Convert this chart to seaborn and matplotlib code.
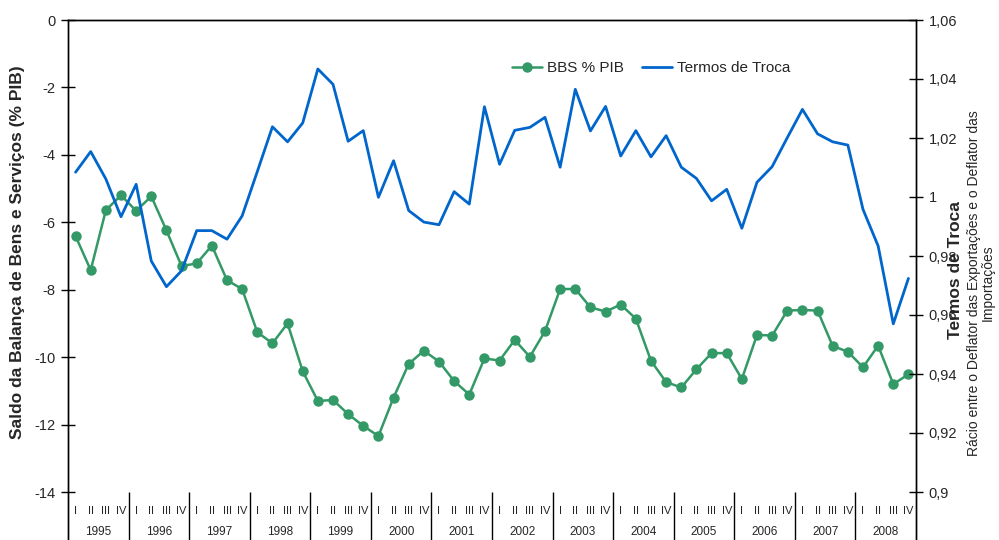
import numpy as np
import pandas as pd
import matplotlib
matplotlib.use("Agg")
import matplotlib.pyplot as plt
import seaborn as sns

# Quarterly data, 1995 Q1 - 2008 Q4
years = list(range(1995, 2009))
quarters = ["I", "II", "III", "IV"]

bbs_pib = [
    -6.41, -7.42, -5.64, -5.20, -5.66, -5.23, -6.24, -7.30,
    -7.22, -6.69, -7.72, -7.98, -9.26, -9.59, -9.00, -10.42,
    -11.30, -11.27, -11.69, -12.04, -12.34, -11.20, -10.20, -9.81,
    -10.13, -10.71, -11.11, -10.04, -10.10, -9.49, -9.99, -9.23,
    -7.98, -7.98, -8.52, -8.65, -8.44, -8.86, -10.11, -10.74,
    -10.90, -10.36, -9.88, -9.88, -10.65, -9.34, -9.36, -8.62,
    -8.60, -8.62, -9.67, -9.84, -10.30, -9.66, -10.80, -10.51,
]

termos_troca = [
    1.0084, 1.0154, 1.0061, 0.9933, 1.0043, 0.9783, 0.9696, 0.9750,
    0.9886, 0.9886, 0.9857, 0.9936, 1.0086, 1.0238, 1.0187, 1.0251,
    1.0434, 1.0382, 1.0189, 1.0225, 0.9999, 1.0123, 0.9954, 0.9915,
    0.9906, 1.0018, 0.9976, 1.0306, 1.0111, 1.0226, 1.0236, 1.0270,
    1.0101, 1.0365, 1.0224, 1.0307, 1.0139, 1.0225, 1.0136, 1.0208,
    1.0101, 1.0063, 0.9987, 1.0026, 0.9894, 1.0050, 1.0103, 1.0201,
    1.0297, 1.0214, 1.0187, 1.0176, 0.9958, 0.9834, 0.9570, 0.9724,
]

left_ticks = [0, -2, -4, -6, -8, -10, -12, -14]
right_ticks = [0.90, 0.92, 0.94, 0.96, 0.98, 1.00, 1.02, 1.04, 1.06]

GREEN = "#339966"
BLUE = "#0066CC"

df = pd.DataFrame({
    "t": np.arange(len(bbs_pib)),
    "bbs": bbs_pib,
    "tt": termos_troca,
})

sns.set_style("white")
plt.rcParams["font.family"] = ["Liberation Sans", "DejaVu Sans"]

W, H = 999, 540
fig = plt.figure(figsize=(W / 100, H / 100), dpi=100)
x0, x1, ytop = 68, 916, 20
ax = fig.add_axes([x0 / W, 0, (x1 - x0) / W, (H - ytop) / H])
ax2 = ax.twinx()

# vertical extent: the category strip hangs below the -14 / 0.9 gridline
px_per_unit_l = (492 - ytop) / 14.0
ymin_l = -14 - (H - 492) / px_per_unit_l
px_per_unit_r = (492 - ytop) / 0.16
ymin_r = 0.90 - (H - 492) / px_per_unit_r

sns.lineplot(data=df, x="t", y="bbs", ax=ax, color=GREEN, lw=1.8,
             marker="o", markersize=7.5, markeredgewidth=0,
             label="BBS % PIB", legend=False)
sns.lineplot(data=df, x="t", y="tt", ax=ax2, color=BLUE, lw=2.0,
             label="Termos de Troca", legend=False)

n = len(bbs_pib)
ax.set_xlim(-0.5, n - 0.5)
ax.set_ylim(ymin_l, 0)
ax2.set_ylim(ymin_r, 1.06)

ax.set_yticks(left_ticks)
ax.set_yticklabels([f"{v:g}" for v in left_ticks])
ax2.set_yticks(right_ticks)
ax2.set_yticklabels([f"{v:g}".replace(".", ",") for v in right_ticks])
ax.set_xticks([])
ax.set_xlabel("")
ax.set_ylabel("")
ax2.set_ylabel("")

for a in (ax, ax2):
    a.tick_params(axis="y", direction="inout", length=10, width=1,
                  color="black", labelsize=10.5, pad=4)
    a.spines["bottom"].set_visible(False)
    for s in ("left", "right", "top"):
        a.spines[s].set_color("black")
        a.spines[s].set_linewidth(1)
    a.grid(False)

# category strip: quarter and year labels with year separators
for k in range(1, len(years)):
    ax.vlines(4 * k - 0.5, ymin_l, -14, color="black", lw=1)
y_q = -(511 - ytop) / px_per_unit_l
y_y = -(532 - ytop) / px_per_unit_l
for k, yr in enumerate(years):
    for j, q in enumerate(quarters):
        ax.text(4 * k + j, y_q, q, ha="center", va="center", fontsize=8)
    ax.text(4 * k + 1.5, y_y, str(yr), ha="center", va="center", fontsize=8.5)

# axis titles
fig.text(18 / W, 1 - 252 / H, "Saldo da Balança de Bens e Serviços (% PIB)",
         rotation=90, ha="center", va="center", fontsize=12.5, fontweight="bold")
fig.text(955 / W, 1 - 270 / H, "Termos de Troca", rotation=90,
         ha="center", va="center", fontsize=12.5, fontweight="bold")
fig.text(981 / W, 1 - 283 / H,
         "Rácio entre o Deflator das Exportações e o Deflator das\nImportações",
         rotation=90, ha="center", va="center", fontsize=10, linespacing=1.0)

# legend
h1, l1 = ax.get_legend_handles_labels()
h2, l2 = ax2.get_legend_handles_labels()
ax2.legend(h1 + h2, l1 + l2, loc="center", bbox_to_anchor=(651 / W, 1 - 68 / H),
           bbox_transform=fig.transFigure, ncol=2, frameon=False, fontsize=11,
           handlelength=2.0, handletextpad=0.3, columnspacing=1.2)

fig.savefig("out.png", dpi=100)
